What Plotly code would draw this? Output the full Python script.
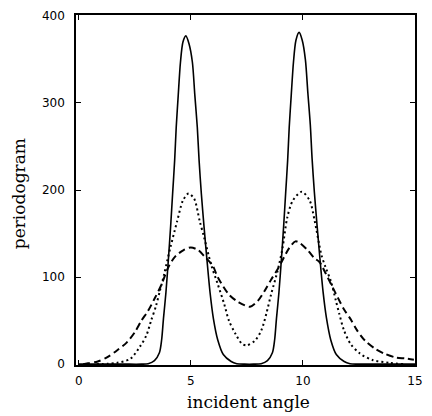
import plotly.graph_objects as go

# ---- data ----
solid_x = [0, 1, 2, 2.8, 3.1, 3.38, 3.6, 3.7, 3.78, 3.89, 4.0, 4.1, 4.19, 4.28, 4.35, 4.44,
           4.54, 4.65, 4.78, 4.92, 5.07, 5.18, 5.29, 5.37, 5.47, 5.59, 5.72, 5.86, 6.01,
           6.2, 6.45, 6.8, 7.05, 7.4, 7.8,
           8.14, 8.42, 8.64, 8.74, 8.82, 8.93, 9.04, 9.14, 9.23, 9.32, 9.39, 9.48, 9.58,
           9.69, 9.83, 9.97, 10.11, 10.22, 10.33, 10.41, 10.51, 10.63, 10.76, 10.9, 11.05,
           11.24, 11.49, 11.84, 12.1, 12.4, 13, 14, 15]
solid_y = [0, 0, 0, 0, 0.5, 4, 13, 28, 52, 82, 120, 158, 196, 234, 272, 309,
           347, 370, 377, 368, 347, 309, 272, 234, 196, 158, 120, 82, 52,
           28, 11, 3, 0.5, 0, 0,
           0.5, 4, 13, 28, 52, 82, 120, 158, 196, 234, 272, 309, 347,
           372, 381, 372, 350, 312, 275, 236, 198, 160, 121, 83, 53,
           28, 11, 3, 0.5, 0, 0, 0, 0]

dashed_x = [0.2, 0.42, 0.85, 1.28, 1.72, 2.15, 2.51, 2.8, 3.09, 3.38, 3.67, 4.03, 4.32, 4.68,
            5.0, 5.33, 5.6, 5.98, 6.2, 6.7, 7.14, 7.64, 8.0, 8.29, 8.58, 8.9, 9.38, 9.67,
            9.87, 10.24, 10.5, 10.75, 11.0, 11.33, 11.83, 12.12, 12.41, 12.77, 13.2, 13.64,
            14.14, 14.58, 14.95]
dashed_y = [0, 1, 3, 8, 16, 25, 37, 50, 61, 75, 90, 113, 124, 131,
            134, 131, 124, 113, 100, 80, 71, 66, 73, 84, 97, 110, 133, 141,
            139, 130, 122, 117, 105, 88, 63, 52, 39, 27, 18, 12,
            7.6, 6.5, 5]

dotted_x = [0.8, 1.3, 1.72, 2.3, 2.73, 3.02, 3.23, 3.45, 3.62, 3.81, 3.96, 4.1, 4.39, 4.65,
            4.9, 5.15, 5.4, 5.6, 5.91, 6.2, 6.49, 6.7, 6.99, 7.28, 7.5, 7.86, 8.15, 8.37,
            8.58, 8.87, 9.09, 9.3, 9.55, 9.95, 10.3, 10.53, 10.82, 11.0, 11.25, 11.47,
            11.62, 11.83, 12.12, 12.55, 13.13, 13.85, 14.5]
dotted_y = [0, 0.5, 1.5, 6, 20, 33, 50, 67, 84, 103, 120, 135, 164, 188,
            196, 190, 164, 145, 114, 92, 69, 50, 35, 23.5, 21.6, 27, 39, 58,
            80, 107, 133, 168, 188, 198, 188, 164, 126, 112, 95, 73,
            58, 39, 23.5, 12, 4.5, 1.5, 0]

x_ticks = [0, 5, 10, 15]
y_ticks = [0, 100, 200, 300, 400]
x_title = "incident angle"
y_title = "periodogram"

fig = go.Figure()
fig.add_trace(go.Scatter(x=solid_x, y=solid_y, mode="lines",
                         line=dict(color="black", width=1.6, shape="spline", smoothing=0.8)))
fig.add_trace(go.Scatter(x=dotted_x, y=dotted_y, mode="lines",
                         line=dict(color="black", width=2, dash="2px,3px",
                                   shape="spline", smoothing=0.8)))
fig.add_trace(go.Scatter(x=dashed_x, y=dashed_y, mode="lines",
                         line=dict(color="black", width=2, dash="7px,4px",
                                   shape="spline", smoothing=0.8)))

axis_common = dict(showline=True, linecolor="black", linewidth=1.5, mirror="ticks",
                   ticks="inside", ticklen=5, tickwidth=1, tickcolor="black",
                   showgrid=False, zeroline=False,
                   tickfont=dict(family="DejaVu Sans", size=12, color="black"))

fig.update_layout(
    width=432, height=416,
    margin=dict(l=76, r=9, t=10, b=51),
    paper_bgcolor="white", plot_bgcolor="white",
    showlegend=False,
    xaxis=dict(range=[-0.12, 15.0], tickvals=x_ticks, ticklabelstandoff=4, **axis_common),
    yaxis=dict(range=[-1, 401], tickvals=y_ticks, ticklabelstandoff=7, **axis_common),
    annotations=[
        dict(text=x_title, xref="paper", yref="paper", x=0.51, y=-0.107,
             xanchor="center", yanchor="middle", showarrow=False,
             font=dict(family="DejaVu Serif", size=17, color="black")),
        dict(text=y_title, xref="paper", yref="paper", x=-0.169, y=0.49,
             xanchor="center", yanchor="middle", showarrow=False, textangle=-90,
             font=dict(family="DejaVu Serif", size=17, color="black")),
    ],
)

fig.write_html("out.html")
